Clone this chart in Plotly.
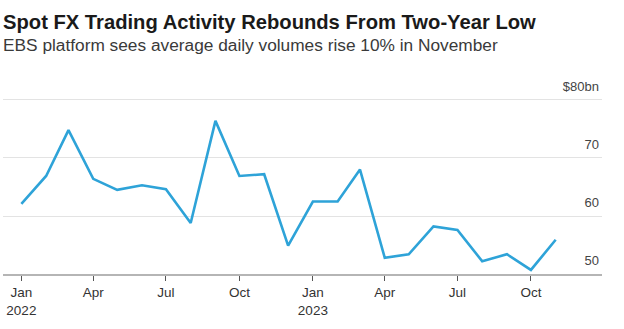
import plotly.graph_objects as go

# EBS spot FX average daily volume, $bn, monthly
months = [
    "2022-01-01", "2022-02-01", "2022-03-01", "2022-04-01", "2022-05-01", "2022-06-01",
    "2022-07-01", "2022-08-01", "2022-09-01", "2022-10-01", "2022-11-01", "2022-12-01",
    "2023-01-01", "2023-02-01", "2023-03-01", "2023-04-01", "2023-05-01", "2023-06-01",
    "2023-07-01", "2023-08-01", "2023-09-01", "2023-10-01", "2023-11-01",
]
volumes = [
    62.1, 66.9, 74.8, 66.4, 64.5, 65.3,
    64.6, 58.8, 76.4, 66.9, 67.2, 54.9,
    62.5, 62.5, 68.0, 52.8, 53.4, 58.2,
    57.6, 52.2, 53.4, 50.7, 55.9,
]

x_tickvals = ["2022-01-01", "2022-04-01", "2022-07-01", "2022-10-01",
              "2023-01-01", "2023-04-01", "2023-07-01", "2023-10-01"]
x_ticktext = ["Jan<br>2022", "Apr", "Jul", "Oct", "Jan<br>2023", "Apr", "Jul", "Oct"]
y_tickvals = [50, 60, 70, 80]
y_ticktext = ["50", "60", "70", "$80bn"]

title_text = "Spot FX Trading Activity Rebounds From Two-Year Low"
subtitle_text = "EBS platform sees average daily volumes rise 10% in November"

font_family = "Liberation Sans, Arial, sans-serif"

fig = go.Figure()
fig.add_trace(go.Scatter(
    x=months, y=volumes, mode="lines",
    line=dict(color="#2ea3d8", width=2.6),
    hoverinfo="x+y",
))

fig.add_annotation(
    text=f"<b>{title_text}</b>", xref="paper", yref="paper",
    x=-0.003, y=1.235, xanchor="left", yanchor="middle", showarrow=False,
    font=dict(size=20.2, color="#1a1a1a", family=font_family),
)
fig.add_annotation(
    text=subtitle_text, xref="paper", yref="paper",
    x=-0.003, y=1.125, xanchor="left", yanchor="middle", showarrow=False,
    font=dict(size=17.3, color="#3a3a3a", family=font_family),
)

fig.update_layout(
    width=624, height=329,
    margin=dict(l=3, r=22, t=70, b=55),
    paper_bgcolor="white", plot_bgcolor="white",
    showlegend=False,
    font=dict(family=font_family, color="#333333"),
    xaxis=dict(
        type="date",
        range=["2021-12-09", "2023-12-29"],
        tickvals=x_tickvals, ticktext=x_ticktext,
        showgrid=False, zeroline=False,
        showline=True, linecolor="#b5b5b5", linewidth=2,
        ticks="outside", ticklen=5, tickcolor="#555555", tickwidth=1,
        tickfont=dict(size=13.5, color="#333333"),
    ),
    yaxis=dict(
        side="right",
        range=[50, 85.17],
        tickvals=y_tickvals, ticktext=y_ticktext,
        ticklabelposition="inside top",
        ticklabelshift=-4,
        showgrid=True, gridcolor="#e3e3e3", gridwidth=1,
        zeroline=False, showline=False, ticks="",
        tickfont=dict(size=13, color="#444444"),
    ),
)

fig.write_html("out.html")
